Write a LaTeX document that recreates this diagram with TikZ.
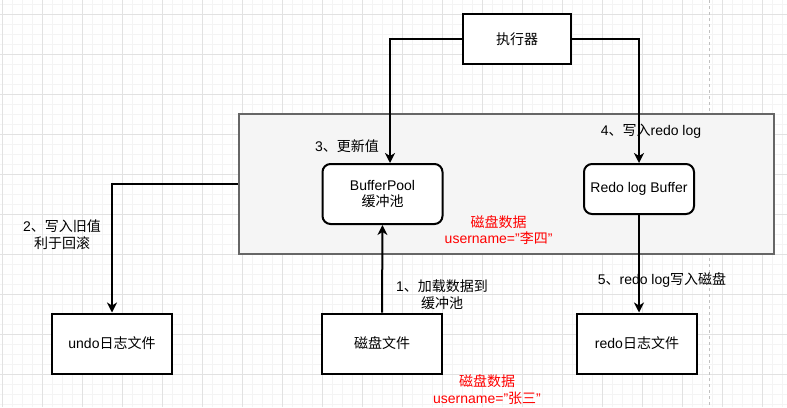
\documentclass[tikz,border=0pt]{standalone}
\usepackage{fontspec}
\setmainfont{Liberation Sans}
\newfontfamily\cjk{Noto Sans CJK SC}
\usetikzlibrary{arrows.meta}
\definecolor{redtxt}{HTML}{FF0000}
\definecolor{gridmajor}{HTML}{E2E2E2}
\definecolor{gridminor}{HTML}{F4F4F4}
\definecolor{contfill}{HTML}{F5F5F5}
\definecolor{contline}{HTML}{666666}
\definecolor{pagebreak}{HTML}{C0C0C0}
\tikzset{
  box/.style={draw=black, line width=2pt, fill=white, minimum width=120pt, minimum height=60pt, inner sep=0pt, align=center, font=\fontsize{14}{16.8}\selectfont},
  rbox/.style={box, rounded corners=8pt},
  lbl/.style={inner sep=0pt, align=center, font=\fontsize{14}{16.8}\selectfont},
  arr/.style={line width=2pt, -{Stealth[length=10pt,width=10pt,inset=3pt]}},
  minorline/.style={gridminor, line width=0.8pt},
  majorline/.style={gridmajor, line width=1pt},
}
\begin{document}
\begin{tikzpicture}[x=1pt,y=-1pt]
\useasboundingbox[fill=white] (0,0) rectangle (787,407);
% grid
\foreach \i in {0,...,78} {\draw[minorline] ({2.3+10*\i},0) -- ({2.3+10*\i},407);}
\foreach \j in {0,...,40} {\draw[minorline] (0,{4.3+10*\j}) -- (787,{4.3+10*\j});}
\foreach \i in {0,...,19} {\draw[majorline] ({2.3+40*\i},0) -- ({2.3+40*\i},407);}
\foreach \j in {0,...,9} {\draw[majorline] (0,{14.3+40*\j}) -- (787,{14.3+40*\j});}
\coordinate (pbtop) at (709.3,0);
\coordinate (pbbot) at (709.3,407);
\draw[pagebreak, line width=1pt, dash pattern=on 3pt off 3pt] (pbtop) -- (pbbot);

% container
\node[draw=contline, fill=contfill, line width=2pt, minimum width=535pt, minimum height=140pt, inner sep=0pt] (cont) at (506.3,183.5) {};

% nodes
\node[box, minimum width=108pt, minimum height=50pt] (exec) at (517,39) {{\cjk 执行器}};
\node[rbox] (bp) at (382.5,194) {BufferPool\\{\cjk 缓冲池}};
\node[rbox, minimum width=110pt, minimum height=50pt] (rlb) at (639,189) {Redo log Buffer};
\node[box] (undo) at (112,343.5) {undo{\cjk 日志文件}};
\node[box] (disk) at (382,343.5) {{\cjk 磁盘文件}};
\node[box] (redo) at (637,343.5) {redo{\cjk 日志文件}};

% connectors
\draw[arr] (exec.west) -| ([xshift=7.5pt]bp.north);
\draw[arr] (exec.east) -| (rlb.north);
\draw[arr] (cont.west) -| (undo.north);
\draw[arr] (disk.north) -- (bp.south);
\draw[arr] (rlb.south) -- (rlb.south |- redo.north);

% labels
\node[lbl] (l3) at (347,146) {3{\cjk 、更新值}};
\node[lbl] (l4) at (651,131) {4{\cjk 、写入}redo log};
\node[lbl, text=redtxt] (red1) at (498.6,230) {{\cjk 磁盘数据}\\username="{\cjk 李四}"};
\node[lbl] (l2) at (62,235) {2{\cjk 、写入旧值}\\{\cjk 利于回滚}};
\node[lbl] (l1) at (442,295) {1{\cjk 、加载数据到}\\{\cjk 缓冲池}};
\node[lbl] (l5) at (662,280) {5{\cjk 、}redo log{\cjk 写入磁盘}};
\node[lbl, text=redtxt] (red2) at (487,390) {{\cjk 磁盘数据}\\username="{\cjk 张三}"};
\end{tikzpicture}
\end{document}
